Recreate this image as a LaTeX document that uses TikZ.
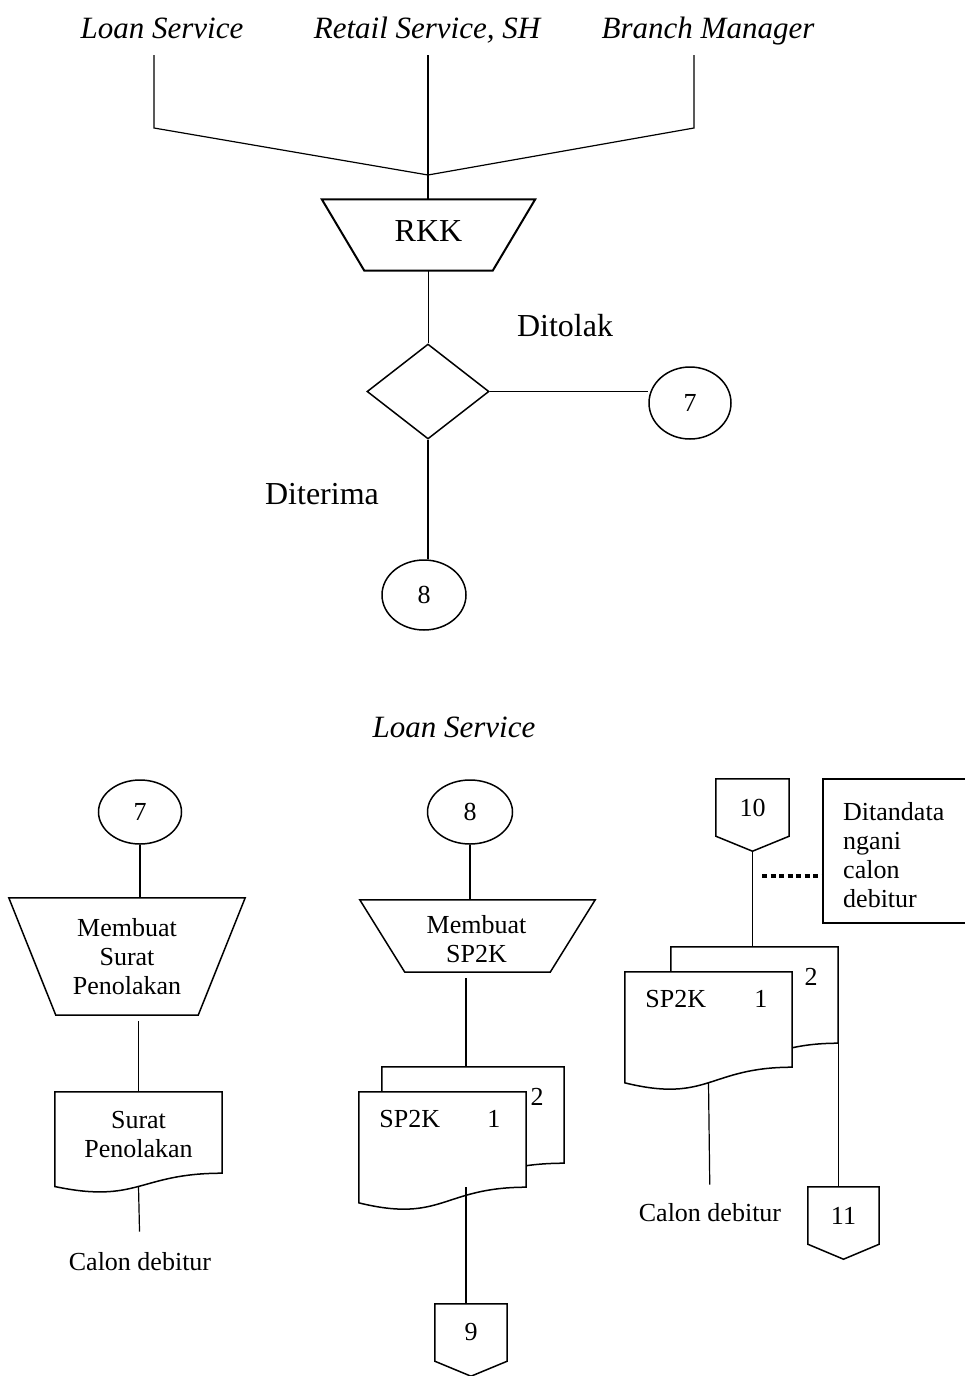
\documentclass[tikz,border=0pt]{standalone}
\usepackage{fontspec}
\setmainfont{Liberation Serif}
\usetikzlibrary{shapes.geometric,calc}

% trapezoid drawn inside an invisible rectangle node: #2 name, #3 inset of the short side
\newcommand{\drawtrap}[3][]{\draw[shp,#1] (#2.north west) -- (#2.north east) -- ($(#2.south east)+(-#3,0)$) -- ($(#2.south west)+(#3,0)$) -- cycle;}
% document symbol: #1 name, #2 full height of the symbol
\newcommand{\drawdoc}[2]{\draw[shp,fill=white] (#1.north west) -- (#1.north east) -- (#1.south east)
  .. controls (#1.south) and ($(#1.south)+(0,{0.3055*#2})$) .. ($(#1.south west)+(0,{0.132*#2})$) -- cycle;}
% off-page connector
\newcommand{\drawoff}[1]{\draw[shp,fill=white] (#1.north west) -- (#1.north east) -- (#1.south east) -- ($(#1.south)+(0,15)$) -- (#1.south west) -- cycle;}

\begin{document}
\begin{tikzpicture}[x=1pt,y=-1pt,
  conn/.style={line width=1.2pt},
  shp/.style={line width=1.5pt},
  frame/.style={inner sep=0pt, draw=none},
  circ/.style={ellipse, draw, line width=1.5pt, inner sep=0pt, font=\fontsize{26}{29}\selectfont},
  lane/.style={inner sep=0pt, font=\fontsize{31}{36}\selectfont\itshape},
  big/.style={inner sep=0pt, font=\fontsize{32}{38}\selectfont},
  txt/.style={inner sep=0pt, font=\fontsize{26}{29}\selectfont, align=center},
  dotline/.style={line width=3.5pt, dash pattern=on 5pt off 3.5pt}
]
\useasboundingbox (0,0) rectangle (965,1376);
\clip (0,0) rectangle (965,1376);

% ---------- upper part: RKK decision ----------
\node[lane, anchor=base] (ls) at (162,38) {Loan Service};
\node[lane, anchor=base] (rs) at (427,38) {Retail Service, SH};
\node[lane, anchor=base] (bm) at (708,38) {Branch Manager};

\coordinate (ls1) at (154,55);
\coordinate (ls2) at (154,128);
\coordinate (rs1) at (428,55);
\coordinate (bm1) at (694,55);
\coordinate (bm2) at (694,128);
\coordinate (j) at (428,175);

\node[frame, minimum width=213pt, minimum height=71pt] (rkk) at (428.5,235) {};
\drawtrap[line width=2pt]{rkk}{42.5}
\node[big] (rkkt) at (428.5,231) {RKK};

\node[diamond, draw, shp, inner sep=0pt, minimum width=122pt, minimum height=95pt] (dec) at (428,391.5) {};
\node[circ, minimum width=82pt, minimum height=72pt] (c7a) at (690,403) {7};
\node[circ, minimum width=84pt, minimum height=70pt] (c8a) at (424,595) {8};

\node[big] (tolak) at (565,326) {Ditolak};
\node[big] (terima) at (322,494) {Diterima};

\draw[conn] (ls1) -- (ls2) -- (j);
\draw[conn] (bm1) -- (bm2) -- (j);
\draw[conn] (rs1) -- (rs1 |- rkk.north);
\draw[conn] (rkk.south) -- (rkk.south |- dec.north);
\draw[conn] (dec.east) -- (c7a.west |- dec.east);
\draw[conn] (dec.south) -- (dec.south |- c8a.north);

% ---------- lower part: Loan Service ----------
\node[lane] (ls2lbl) at (454,727) {Loan Service};

% column A: rejection letter
\node[circ, minimum width=83pt, minimum height=64pt] (c7b) at (140,812) {7};
\node[frame, minimum width=236pt, minimum height=117pt, txt] (tr1) at (127,956.5) {Membuat\\Surat\\Penolakan};
\drawtrap{tr1}{47}
\node[frame, minimum width=167pt, minimum height=81pt] (f1) at (138.5,1132.5) {};
\drawdoc{f1}{101}
\node[txt] (f1t) at (138.5,1135) {Surat\\Penolakan};
\node[txt] (cd1) at (140,1262) {Calon debitur};

\draw[conn] (c7b.south) -- (c7b.south |- tr1.north);
\draw[conn] ([yshift=-6pt]tr1.south -| f1.north) -- (f1.north);
\draw[conn, shorten >=21pt] ($(f1.south)+(0,13)$) -- (cd1.north);

% column B: SP2K
\coordinate (colB) at (466,0);
\node[circ, minimum width=85pt, minimum height=64pt] (c8b) at (470,812) {8};
\node[frame, minimum width=235pt, minimum height=72pt] (tr2) at (477.5,936) {};
\drawtrap{tr2}{45}
\node[txt] (tr2t) at (476.5,939) {Membuat\\SP2K};
\node[frame, minimum width=182pt, minimum height=96pt] (b2) at (473,1115) {};
\node[frame, minimum width=167pt, minimum height=95pt] (f2) at (442.5,1139.5) {};
\drawdoc{b2}{119.7}
\drawdoc{f2}{118.5}
\node[txt] (f2a) at ($(f2.north west)+(51,27)$) {SP2K};
\node[txt] (f2b) at ($(f2.north west)+(135,27)$) {1};
\node[txt] (b2a) at ($(b2.north east)+(-27,30)$) {2};
\node[frame, minimum width=72pt, minimum height=57pt] (p9) at (471,1332.5) {};
\drawoff{p9}
\node[txt] (p9t) at (p9.center) {9};

\draw[conn] (c8b.south) -- (c8b.south |- tr2.north);
\draw[conn] ([yshift=-6pt]tr2.south -| colB) -- (colB |- b2.north);
\draw[conn] (f2.south -| colB) -- (colB |- p9.north);

% column C: signed SP2K
\node[frame, minimum width=73pt, minimum height=57pt] (p10) at (752.5,807.5) {};
\drawoff{p10}
\node[txt] (p10t) at (p10.center) {10};
\coordinate (p10tip) at ($(p10.south)+(0,15)$);
\node[draw, shp, inner sep=0pt, minimum width=152pt, minimum height=144pt] (nt) at (899,851) {};
\node[txt, align=left, anchor=west] (ntt) at (843,855) {Ditandata\\ngani\\calon\\debitur};
\coordinate (dotA) at (762,876);
\draw[dotline] (dotA) -- (dotA -| nt.west);

\node[frame, minimum width=167pt, minimum height=96pt] (b3) at (754.5,995) {};
\node[frame, minimum width=167pt, minimum height=95pt] (f3) at (708.5,1019.5) {};
\drawdoc{b3}{119.7}
\drawdoc{f3}{118.5}
\node[txt] (f3a) at ($(f3.north west)+(51,27)$) {SP2K};
\node[txt] (f3b) at ($(f3.north west)+(136,27)$) {1};
\node[txt] (b3a) at ($(b3.north east)+(-27,30)$) {2};
\node[txt] (cd3) at (710,1213) {Calon debitur};
\node[frame, minimum width=71pt, minimum height=57pt] (p11) at (843.5,1215.5) {};
\drawoff{p11}
\node[txt] (p11t) at (p11.center) {11};

\draw[conn] (p10tip) -- (p10tip |- b3.north);
\draw[conn, shorten >=19pt] ($(f3.south)+(0,15)$) -- (cd3.north);
\draw[conn] (b3.south east) -- (b3.south east |- p11.north);
\end{tikzpicture}
\end{document}
